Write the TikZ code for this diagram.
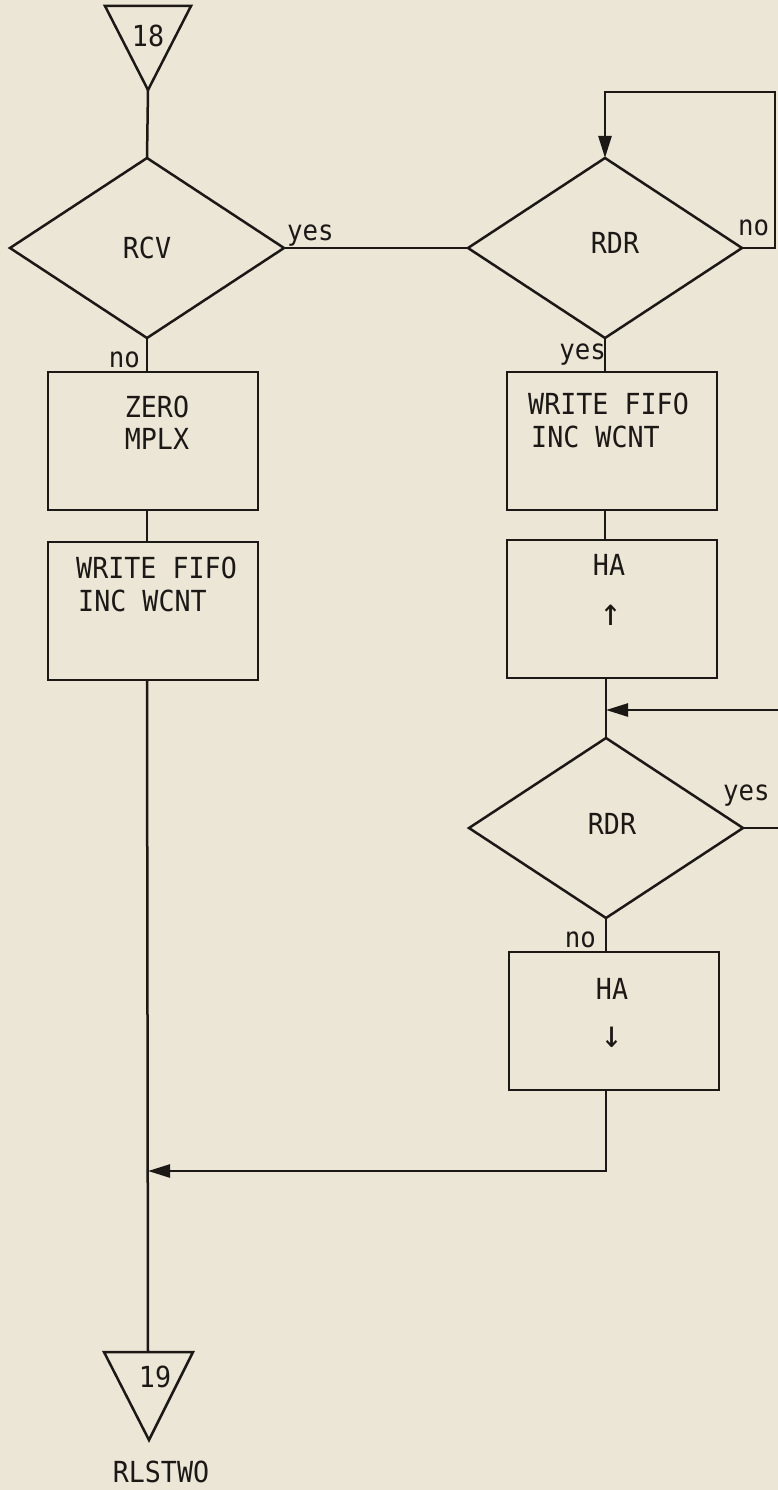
\documentclass[tikz,border=0pt]{standalone}
\usepackage{fontspec}
\setmainfont{DejaVu Sans Mono}[FakeStretch=0.92]
\usetikzlibrary{shapes.geometric,arrows.meta,calc}
\definecolor{bgc}{RGB}{236,230,215}
\definecolor{ink}{RGB}{28,24,22}
\tikzset{
  base/.style={draw=ink, line width=2.5pt, inner sep=0pt, outer sep=0pt},
  boxnode/.style={base, rectangle, minimum width=210pt, minimum height=138pt},
  dec/.style={base, diamond, minimum width=274pt, minimum height=180pt,
    font=\fontsize{29}{33}\selectfont, text=ink},
  txt/.style={inner sep=0pt, font=\fontsize{29}{33}\selectfont, text=ink},
  lab/.style={inner sep=0pt, font=\fontsize{28}{32}\selectfont, text=ink},
  arw/.style={inner sep=0pt, font=\fontsize{38}{40}\selectfont, text=ink},
  conn/.style={draw=ink, line width=2.5pt},
  arr/.style={conn, -{Triangle[length=22pt,width=13pt]}}
}
\begin{document}
\begin{tikzpicture}[x=1pt,y=-1pt]
\useasboundingbox (0,0) rectangle (778,1490);
\fill[bgc] (0,0) rectangle (778,1490);

% off-page connector 18
\coordinate (t18l) at (105,6);
\coordinate (t18r) at (191,6);
\coordinate (t18apex) at (148,90);
\draw[conn, line join=miter] (t18l) -- (t18r) -- (t18apex) -- cycle;
\node[txt, anchor=base] (t18) at (148,47) {18};

% left column
\node[dec] (rcv) at (147,248) {RCV};
\node[boxnode] (zero) at (153,441) {};
\node[txt, anchor=base] (zeroa) at (157,417) {ZERO};
\node[txt, anchor=base] (zerob) at (157,449) {MPLX};
\node[boxnode] (wfa) at (153,611) {};
\node[txt, anchor=base west] (wfa1) at (76,578) {WRITE FIFO};
\node[txt, anchor=base west] (wfa2) at (78,611) {INC WCNT};

% off-page connector 19
\coordinate (t19l) at (104,1352);
\coordinate (t19r) at (193,1352);
\coordinate (t19top) at (148,1352);
\coordinate (t19apex) at (149,1440);
\draw[conn, line join=miter] (t19l) -- (t19r) -- (t19apex) -- cycle;
\node[txt, anchor=base] (t19) at (155,1387) {19};
\node[txt, anchor=base] (rlstwo) at (161,1482) {RLSTWO};

% right column
\node[dec] (rdra) at (605,248) {};
\node[txt, anchor=base] (rdrat) at (615,253) {RDR};
\node[boxnode] (wfb) at (612,441) {};
\node[txt, anchor=base west] (wfb1) at (528,414) {WRITE FIFO};
\node[txt, anchor=base west] (wfb2) at (531,447) {INC WCNT};
\node[boxnode] (haa) at (612,609) {};
\node[txt, anchor=base] (haat) at (609,575) {HA};
\node[arw] (haaar) at (611,615) {↑};
\node[dec] (rdrb) at (606,828) {};
\node[txt, anchor=base] (rdrbt) at (612,834) {RDR};
\node[boxnode] (hab) at (614,1021) {};
\node[txt, anchor=base] (habt) at (612,999) {HA};
\node[arw] (habar) at (612,1037) {↓};

% labels
\node[lab, anchor=base west] (l1) at (287,240) {yes};
\node[lab, anchor=base east] (l2) at (140,367) {no};
\node[lab, anchor=base west] (l3) at (738,235) {no};
\node[lab, anchor=base east] (l4) at (606,359) {yes};
\node[lab, anchor=base west] (l5) at (723,800) {yes};
\node[lab, anchor=base east] (l6) at (596,947) {no};

% helper coordinates
\coordinate (loopa) at (775,92);
\coordinate (loopb) at (800,710);
\coordinate (joinb) at (606,710);
\coordinate (merge) at (148,1171);

% connectors left
\draw[conn] (t18apex) -- (rcv.north);
\draw[conn] (rcv.south) -- (rcv.south |- zero.north);
\draw[conn] (rcv.south |- zero.south) -- (rcv.south |- wfa.north);
\draw[conn] (rcv.south |- wfa.south) -- (t19top);
\draw[conn] (rcv.east) -- (rdra.west);

% connectors right
\draw[arr] (rdra.east) -| (loopa) -| (rdra.north);
\draw[conn] (rdra.south) -- (rdra.south |- wfb.north);
\draw[conn] (rdra.south |- wfb.south) -- (rdra.south |- haa.north);
\draw[conn] (rdrb.north |- haa.south) -- (rdrb.north);
\draw[arr] (rdrb.east) -| (loopb) -- (joinb);
\draw[conn] (rdrb.south) -- (rdrb.south |- hab.north);
\draw[arr] (rdrb.south |- hab.south) |- (merge);
\end{tikzpicture}
\end{document}
